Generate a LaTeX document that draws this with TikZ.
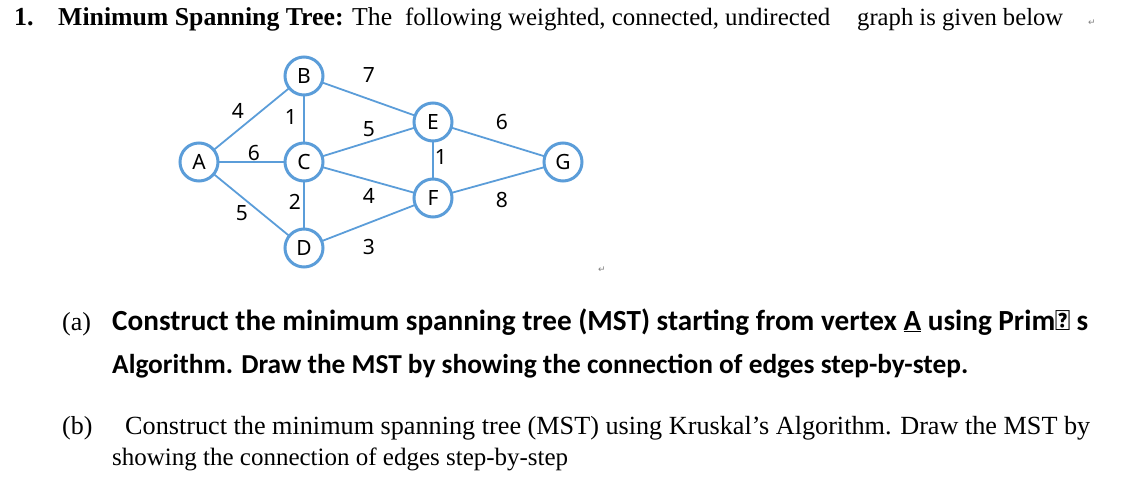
\documentclass[tikz,border=0pt]{standalone}
\usepackage{fontspec}
\setmainfont{Liberation Serif}
\newfontfamily\lblfont{Noto Sans}
\newfontfamily\boldsans{Carlito}
\newfontfamily\symfont{DejaVu Sans}
\definecolor{edgeblue}{RGB}{91,157,217}
\newcommand{\fitw}[2]{\resizebox{#1pt}{!}{#2}}
\begin{document}
\begin{tikzpicture}[x=1pt,y=-1pt,
  vert/.style={circle,draw=edgeblue,line width=3pt,minimum size=38pt,inner sep=0pt,fill=white,font=\lblfont\fontsize{21}{24}\selectfont},
  edge/.style={draw=edgeblue,line width=1.8pt},
  wlbl/.style={font=\lblfont\fontsize{21}{24}\selectfont,inner sep=0pt},
  ser/.style={anchor=base west,inner sep=0pt,font=\fontsize{26}{30}\selectfont},
  sb/.style={anchor=base west,inner sep=0pt,font=\boldsans\bfseries\fontsize{26}{30}\selectfont},
  pmark/.style={anchor=base west,inner sep=0pt,font=\symfont\fontsize{9}{10}\selectfont,text=gray}]
\useasboundingbox (0,0) rectangle (1143,489);
\coordinate (A) at (199,162);
\coordinate (B) at (304,76);
\coordinate (C) at (304,162);
\coordinate (D) at (304,248);
\coordinate (E) at (433,122);
\coordinate (F) at (433,198);
\coordinate (G) at (563,162);
\draw[edge] (A)--(B) (A)--(C) (A)--(D) (B)--(C) (C)--(D) (B)--(E) (C)--(E) (C)--(F) (D)--(F) (E)--(F) (E)--(G) (F)--(G);
\node[vert] (nA) at (A) {A};
\node[vert] (nB) at (B) {B};
\node[vert] (nC) at (C) {C};
\node[vert] (nD) at (D) {D};
\node[vert] (nE) at (E) {E};
\node[vert] (nF) at (F) {F};
\node[vert] (nG) at (G) {G};
\node[wlbl] (w1) at (238,111) {4};
\node[wlbl] (w2) at (291,117) {1};
\node[wlbl] (w3) at (369,75) {7};
\node[wlbl] (w4) at (369,129) {5};
\node[wlbl] (w5) at (254,153) {6};
\node[wlbl] (w6) at (502,122) {6};
\node[wlbl] (w7) at (441,157) {1};
\node[wlbl] (w8) at (369,196) {4};
\node[wlbl] (w9) at (295,202) {2};
\node[wlbl] (w10) at (242,213) {5};
\node[wlbl] (w11) at (502,200) {8};
\node[wlbl] (w12) at (369,247) {3};
\node[ser] (t1) at (14,26) {\textbf{1.}};
\node[ser] (t2) at (58,26) {\fitw{334}{\textbf{Minimum Spanning Tree:} The}};
\node[ser] (t3) at (405,26) {\fitw{425}{following weighted, connected, undirected}};
\node[ser] (t4) at (857,26) {\fitw{206}{graph is given below}};
\node[pmark] (m1) at (1088,26) {↵};
\node[pmark] (m2) at (598,272) {↵};
\node[ser] (ta) at (62,330) {(a)};
\node[sb] (a1) at (112,330) {\fitw{976}{Construct the minimum spanning tree (MST) starting from vertex \underline{A} using Prim′ s}};
\node[sb] (a2) at (112,373) {\fitw{856}{Algorithm. Draw the MST by showing the connection of edges step-by-step.}};
\node[ser] (tb) at (62,434) {(b)};
\node[ser] (b1) at (125,434) {\fitw{965}{Construct the minimum spanning tree (MST) using Kruskal’s Algorithm. Draw the MST by}};
\node[ser] (b2) at (112,465) {\fitw{456}{showing the connection of edges step-by-step}};
\end{tikzpicture}
\end{document}
